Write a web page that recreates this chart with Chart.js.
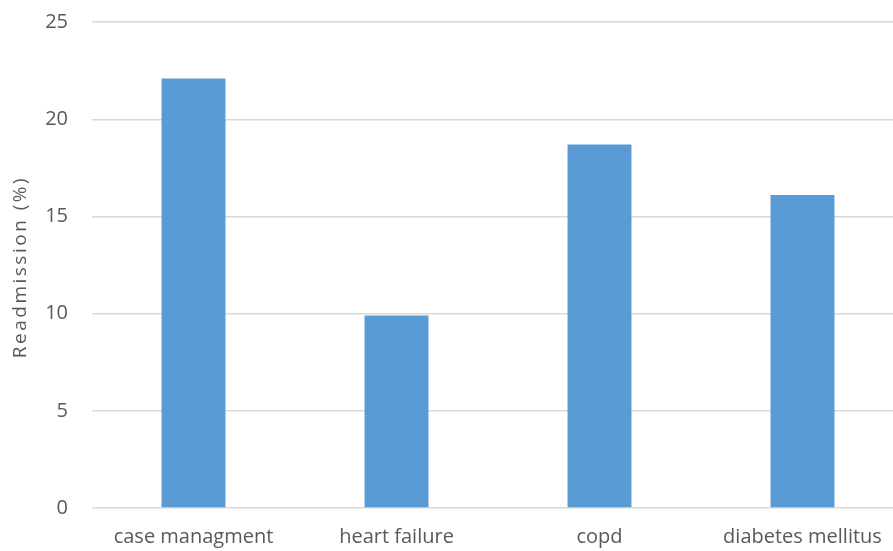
<!DOCTYPE html>
<html>
<head>
<meta charset="utf-8">
<script src="https://cdn.jsdelivr.net/npm/chart.js@4/dist/chart.umd.min.js"></script>
<style>
  html, body { margin: 0; padding: 0; background: #fff; overflow: hidden; }
  #wrap { position: relative; width: 904px; height: 565px; margin-top: -14px; }
</style>
</head>
<body>
<div id="wrap"><canvas id="chart"></canvas></div>
<script>
// Readmission rate per programme
const categories = ['case managment', 'heart failure', 'copd', 'diabetes mellitus'];
const readmission = [22.1, 9.9, 18.7, 16.1];
const yTicks = [0, 5, 10, 15, 20, 25];
const yTitle = 'Readmission (%)';

const textColor = '#595959';
const fontFamily = '"Open Sans", "Noto Sans", sans-serif';

// Rotated y-axis title, drawn with slightly wide letter spacing
const yTitlePlugin = {
  id: 'yTitle',
  afterDraw(chart) {
    const { ctx, chartArea } = chart;
    ctx.save();
    ctx.font = '19px ' + fontFamily;
    ctx.fillStyle = textColor;
    ctx.letterSpacing = '2.5px';
    ctx.textAlign = 'center';
    ctx.textBaseline = 'middle';
    ctx.translate(21, (chartArea.top + chartArea.bottom) / 2 + 2);
    ctx.rotate(-Math.PI / 2);
    ctx.fillText(yTitle, 0, 0);
    ctx.restore();
  }
};

new Chart(document.getElementById('chart'), {
  type: 'bar',
  data: {
    labels: categories,
    datasets: [{
      data: readmission,
      backgroundColor: '#5b9bd5',
      borderWidth: 0,
      categoryPercentage: 1,
      barPercentage: 0.315
    }]
  },
  plugins: [yTitlePlugin],
  options: {
    responsive: true,
    maintainAspectRatio: false,
    animation: false,
    layout: { padding: { top: 7, right: 0, bottom: 0, left: 0 } },
    plugins: { legend: { display: false }, tooltip: { enabled: false } },
    scales: {
      x: {
        grid: { display: false, drawTicks: false },
        border: { display: false },
        ticks: { color: textColor, font: { family: fontFamily, size: 20 }, padding: 17, maxRotation: 0 },
        afterFit: (s) => { s.height = 43; }
      },
      y: {
        min: 0,
        max: 25,
        afterBuildTicks: (s) => { s.ticks = yTicks.map(v => ({ value: v })); },
        grid: { color: '#d9d9d9', lineWidth: 1.4, drawTicks: false },
        border: { display: false },
        ticks: { color: textColor, font: { family: fontFamily, size: 20 }, padding: 24 },
        afterFit: (s) => { s.width = 92; }
      }
    }
  }
});
</script>
</body>
</html>
